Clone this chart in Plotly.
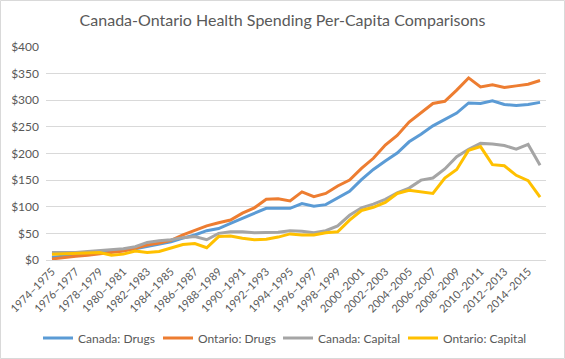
import plotly.graph_objects as go

years = list(range(1974, 2016))
categories = [f"{y}\u2013{y+1}" for y in years]
tick_labels = categories[::2]

canada_drugs = [5, 7, 9, 11, 13, 15, 18, 21, 25, 29, 34, 41, 47, 55, 59, 69, 78, 88, 97, 97,
                97, 106, 101, 104, 116, 129, 151, 170, 186, 201, 222, 236, 252, 264, 276, 295,
                294, 299, 292, 290, 292, 296]
ontario_drugs = [2, 5, 7, 9, 12, 15, 17, 22, 28, 32, 37, 47, 55, 64, 70, 75, 88, 98, 114, 115,
                 111, 128, 119, 125, 139, 150, 172, 191, 216, 234, 259, 276, 294, 298, 319, 342,
                 325, 329, 324, 327, 330, 337]
canada_capital = [14, 14, 14, 16, 18, 19, 21, 25, 33, 36, 38, 42, 44, 38, 50, 53, 53, 51, 51, 52,
                  55, 54, 51, 55, 64, 84, 98, 105, 114, 126, 135, 150, 154, 171, 194, 208,
                  219, 218, 215, 208, 217, 178]
ontario_capital = [11, 12, 12, 13, 14, 9, 11, 17, 14, 16, 23, 29, 31, 23, 44, 45, 41, 38, 39, 43,
                   49, 47, 47, 51, 53, 75, 93, 99, 108, 125, 131, 128, 125, 154, 170, 206,
                   213, 179, 177, 159, 149, 118]

series = [
    ("Canada: Drugs", canada_drugs, "#5B9BD5"),
    ("Ontario: Drugs", ontario_drugs, "#ED7D31"),
    ("Canada: Capital", canada_capital, "#A5A5A5"),
    ("Ontario: Capital", ontario_capital, "#FFC000"),
]

W, H = 565, 359
ml, mr, mt, mb = 46, 19, 47, 99
pw, ph = W - ml - mr, H - mt - mb
legend_left_px = [38, 158, 278, 403]

fig = go.Figure()
legend_layouts = {}
for k, (name, vals, color) in enumerate(series):
    lname = "legend" if k == 0 else f"legend{k + 1}"
    fig.add_trace(go.Scatter(x=categories, y=vals, name=name, mode="lines",
                             line=dict(color=color, width=3), legend=lname))
    legend_layouts[lname] = dict(
        orientation="h", xref="container", yref="container",
        x=legend_left_px[k] / W, xanchor="left",
        y=1 - 338 / H, yanchor="middle",
        font=dict(size=12, color="#595959"), itemwidth=30,
        bgcolor="rgba(0,0,0,0)")

fig.update_layout(
    width=W, height=H,
    margin=dict(l=ml, r=mr, t=mt, b=mb, autoexpand=False),
    paper_bgcolor="white", plot_bgcolor="white",
    font=dict(family="Lato, Open Sans, sans-serif", color="#595959"),
    title=dict(text="Canada-Ontario Health Spending Per-Capita Comparisons",
               x=0.5, xanchor="center", y=1 - 20 / H, yanchor="middle",
               yref="container", font=dict(size=16, color="#595959")),
    showlegend=True,
    xaxis=dict(type="category", tickmode="array", tickvals=tick_labels, ticktext=tick_labels,
               tickangle=-45, tickfont=dict(size=11, color="#595959"),
               showgrid=False, showline=True, linecolor="#d9d9d9", linewidth=1,
               ticks="", range=[-0.5, len(categories) - 0.5], automargin=False),
    yaxis=dict(range=[0, 400], dtick=50, tickprefix="$", showgrid=True,
               gridcolor="#d9d9d9", gridwidth=1, zeroline=False, showline=False,
               tickfont=dict(size=12, color="#595959"), ticks="", ticklabelstandoff=6,
               automargin=False),
    **legend_layouts,
)

fig.add_shape(type="rect", xref="paper", yref="paper",
              x0=(-ml + 0.5) / pw, x1=(pw + mr - 0.5) / pw,
              y0=(-mb + 0.5) / ph, y1=(ph + mt - 0.5) / ph,
              line=dict(color="#d9d9d9", width=1), layer="below")

fig.write_html("out.html", config={"displayModeBar": False},
               post_script="document.body.style.margin='0px';document.body.style.padding='0px';")
